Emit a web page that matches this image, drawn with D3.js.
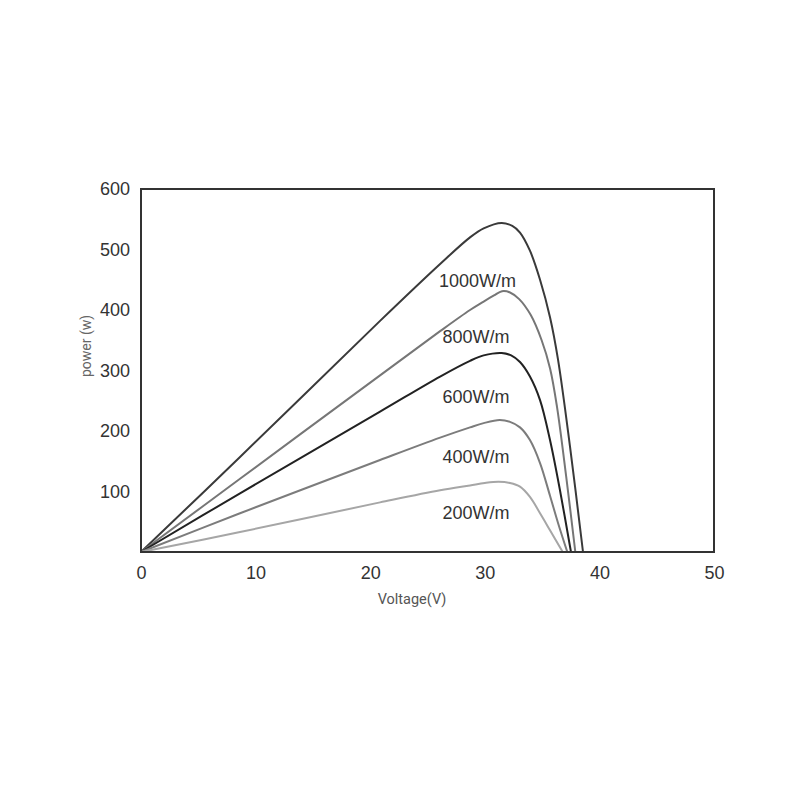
<!DOCTYPE html>
<html>
<head>
<meta charset="utf-8">
<script src="https://cdn.jsdelivr.net/npm/d3@7"></script>
<style>
  html, body { margin: 0; padding: 0; background: #fff; }
  svg { display: block; }
</style>
</head>
<body>
<svg id="chart" width="800" height="800"></svg>
<script>
// ---- Data ----
const xTicks = [0, 10, 20, 30, 40, 50];
const yTicks = [100, 200, 300, 400, 500, 600];
const seriesNames = ["1000W/m", "800W/m", "600W/m", "400W/m", "200W/m"];

// [voltage, power] points per irradiance curve
const curve1000 = [[0,0],[8.64,157],[20.86,382],[26.1,476],[28.71,520],[29.9,535],[31.47,544],[32.4,539],[33.07,528],[33.94,498],[34.82,450],[35.69,388],[36.39,318],[37.43,175],[38.57,0]];
const curve800  = [[0,0],[8.64,121],[20.86,292],[26.1,365],[28.71,400],[29.9,414],[30.8,424],[31.5,431],[32.2,429],[33.0,418],[34.0,392],[34.96,350],[35.7,303],[36.3,240],[37.1,125],[37.9,0]];
const curve600  = [[0,0],[8.64,97],[20.86,232],[26.1,290],[28.71,316],[29.9,325],[31.47,329],[32.3,325],[33.07,314],[33.94,290],[34.82,251],[35.69,185],[36.56,102],[37.52,0]];
const curve400  = [[0,0],[8.64,64],[20.86,152],[26.1,189],[28.71,206],[29.9,213],[31.3,218],[32.2,215],[33.07,206],[33.94,185],[34.82,147],[35.69,93],[36.39,48],[37.2,0]];
const curve200  = [[0,0],[8.64,33],[20.86,82],[26.1,102],[28.71,110],[30.0,114],[31.2,116],[32.2,114],[33.07,108],[33.94,91],[34.82,64],[35.69,36],[36.8,0]];

const seriesData = [curve1000, curve800, curve600, curve400, curve200];
const seriesColors = ["#3a3a3a", "#767676", "#222222", "#7c7c7c", "#a6a6a6"];
// label anchor values [voltage, power]
const labelPos = [[26.0, 438], [26.3, 345], [26.3, 246], [26.3, 147], [26.3, 55]];

// ---- Layout ----
const svg = d3.select("#chart");
const mLeft = 141, mRight = 714, mTop = 189, mBottom = 552;

const x = d3.scaleLinear().domain([0, 50]).range([mLeft, mRight]);
const y = d3.scaleLinear().domain([0, 600]).range([mBottom, mTop]);

const tickFont = "'Liberation Sans', Arial, Helvetica, sans-serif";

// X axis labels
const xAxis = d3.axisBottom(x).tickValues(xTicks).tickSize(0).tickPadding(14).tickFormat(d3.format("d"));
const gx = svg.append("g").attr("transform", `translate(0,${mBottom})`).call(xAxis);
gx.select(".domain").remove();
gx.selectAll("text").attr("font-family", tickFont).attr("font-size", 18).attr("fill", "#333");

// Y axis labels
const yAxis = d3.axisLeft(y).tickValues(yTicks).tickSize(0).tickPadding(11).tickFormat(d3.format("d"));
const gy = svg.append("g").attr("transform", `translate(${mLeft},0)`).call(yAxis);
gy.select(".domain").remove();
gy.selectAll("text").attr("font-family", tickFont).attr("font-size", 18).attr("fill", "#333");

// Curves
const line = d3.line().x(d => x(d[0])).y(d => y(d[1])).curve(d3.curveCatmullRom.alpha(0.5));
svg.append("g").selectAll("path").data(seriesData).join("path")
  .attr("d", line)
  .attr("fill", "none")
  .attr("stroke", (d, i) => seriesColors[i])
  .attr("stroke-width", 2)
  .attr("stroke-linejoin", "round");

// Frame
svg.append("rect")
  .attr("x", mLeft).attr("y", mTop)
  .attr("width", mRight - mLeft).attr("height", mBottom - mTop)
  .attr("fill", "none").attr("stroke", "#333").attr("stroke-width", 2);

// Curve labels
svg.append("g").selectAll("text").data(seriesNames).join("text")
  .attr("x", (d, i) => x(labelPos[i][0]))
  .attr("y", (d, i) => y(labelPos[i][1]))
  .attr("font-family", tickFont)
  .attr("font-size", 18)
  .attr("fill", "#333")
  .text(d => d);

// Axis titles
svg.append("text")
  .attr("x", 412).attr("y", 604)
  .attr("text-anchor", "middle")
  .attr("font-family", "Roboto, 'DejaVu Sans Condensed', sans-serif")
  .attr("font-size", 14.5)
  .attr("fill", "#555")
  .text("Voltage(V)");

svg.append("text")
  .attr("transform", "translate(91,346) rotate(-90)")
  .attr("text-anchor", "middle")
  .attr("font-family", "Roboto, 'DejaVu Sans Condensed', sans-serif")
  .attr("font-size", 14)
  .attr("fill", "#666")
  .text("power (w)");
</script>
</body>
</html>
